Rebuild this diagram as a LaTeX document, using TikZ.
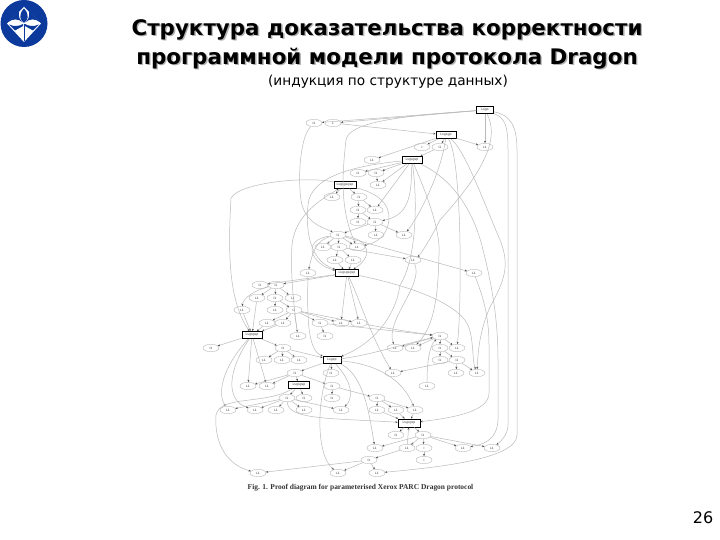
\documentclass[tikz,border=0pt]{standalone}
\usepackage{fontspec}
\setmainfont{DejaVu Sans}
\newfontfamily\capfont{Liberation Serif}
\usetikzlibrary{arrows.meta,shapes.geometric}
\definecolor{logoblue}{HTML}{0B3A9C}
\tikzset{
  el/.style={ellipse,draw=black!28,line width=.4pt,fill=white,minimum width=16,minimum height=7.5,inner sep=0pt,font=\fontsize{3}{3}\selectfont,text=black!80},
  bx/.style={rectangle,draw=black,line width=.9pt,fill=white,minimum height=7,inner sep=0pt,font=\fontsize{3.2}{3}\selectfont,text=black!75},
  e/.style={draw=black!27,line width=.5pt,-{Stealth[length=2.2pt,width=2pt,color=black!70]}},
  ttl/.style={font=\fontsize{21.4}{29}\selectfont\bfseries,align=center,inner sep=0pt},
}
\begin{document}
\begin{tikzpicture}[x=1pt,y=-1pt]
\useasboundingbox (0,0) rectangle (720,540);
\fill[white] (0,0) rectangle (720,540);
% logo
\fill[logoblue] (24,23.5) circle (23.5);
\fill[white] (24,7) -- (41,23.5) -- (24,42) -- (7,23.5) -- cycle;
\fill[logoblue] (24,8.5) .. controls (18,15) and (20,20) .. (24,23) .. controls (28,20) and (30,15) .. (24,8.5);
\fill[logoblue] (8.5,22) -- (19,11.5) .. controls (18,17) and (20,20) .. (23,22.5) .. controls (18,18) and (12,19) .. cycle;
\fill[logoblue] (39.5,22) -- (29,11.5) .. controls (30,17) and (28,20) .. (25,22.5) .. controls (30,18) and (36,19) .. cycle;
\fill[logoblue] (9,24.5) .. controls (14,27) and (20,26) .. (23,24) -- (23,26) -- (15,30.5) -- cycle;
\fill[logoblue] (39,24.5) .. controls (34,27) and (28,26) .. (25,24) -- (25,26) -- (33,30.5) -- cycle;
\fill[logoblue] (23.5,24) rectangle (24.7,41);
% titles
\node[ttl,text=black!30] (tshadow) at (388.4,45.4) {Структура доказательства корректности\\программной модели протокола Dragon};
\node[ttl,text=black] (title) at (387,44) {Структура доказательства корректности\\программной модели протокола Dragon};
\node[font=\fontsize{13.7}{16}\selectfont,inner sep=0pt] (sub) at (388,81.5) {(индукция по структуре данных)};
\node[font=\fontsize{16}{18}\selectfont,inner sep=0pt] (pg) at (703,518) {26};
\node[font=\capfont\fontsize{7.45}{8}\selectfont\bfseries,text=black!80,inner sep=0pt] (cap) at (360.5,488) {Fig. 1. Proof diagram for parameterised Xerox PARC Dragon protocol};
% boxes
\node[bx,minimum width=17] (t) at (485,110) {Lsgp};
\node[bx,minimum width=20] (b2) at (446,135) {Lsgsgp};
\node[bx,minimum width=20] (b3) at (412,160) {Lsgsgsp};
\node[bx,minimum width=22,line width=.6pt] (b4) at (345,185) {Lsgsgsgsp};
\node[bx,minimum width=23] (b5) at (347,273) {Lsgsgsgsp};
\node[bx,minimum width=20] (b6) at (252,335) {Lsgsgsp};
\node[bx,minimum width=18] (b7) at (332,360) {Lsgsp};
\node[bx,minimum width=21] (b8) at (299,385) {Lsgsgsp};
\node[bx,minimum width=22,minimum height=8] (b9) at (409,423) {Lsgsgsp};
% ellipses
\node[el] (a1) at (314,123) {I1};
\node[el] (a2) at (333,123) {L};
\node[el] (c1) at (422,147) {I};
\node[el] (c2) at (440,147) {I1};
\node[el] (c3) at (485,147) {L1};
\node[el] (d1) at (372,160) {L1};
\node[el] (d2) at (358,173) {I1};
\node[el] (d3) at (376,173) {I1};
\node[el] (d4) at (378,185) {L1};
\node[el] (f1) at (332,197) {L1};
\node[el] (f2) at (359,197) {I1};
\node[el] (f3) at (358,210) {I1};
\node[el] (f4) at (375,210) {L1};
\node[el] (f5) at (358,222) {I1};
\node[el] (f6) at (375,222) {I1};
\node[el] (f7) at (376,235) {L1};
\node[el] (f8) at (404,235) {L1};
\node[el] (g0) at (338,235) {I1};
\node[el] (g1) at (323,247) {L1};
\node[el] (g2) at (339,247) {I1};
\node[el] (g3) at (357,247) {L1};
\node[el] (g4) at (335,260) {L1};
\node[el] (g5) at (353,260) {L1};
\node[el] (g6) at (413,260) {L1};
\node[el] (g7) at (308,273) {L1};
\node[el] (g8) at (474,273) {L1};
\node[el] (h1) at (260,285) {I1};
\node[el] (h2) at (276,285) {I1};
\node[el] (h3) at (257,298) {L1};
\node[el] (h4) at (275,298) {I1};
\node[el] (h5) at (293,298) {L1};
\node[el] (h6) at (242,310) {L1};
\node[el] (h7) at (275,310) {L1};
\node[el] (h8) at (294,310) {I1};
\node[el] (i1) at (267,323) {L1};
\node[el] (i2) at (283,323) {L1};
\node[el] (i3) at (320,323) {I1};
\node[el] (i4) at (341,323) {L1};
\node[el] (i5) at (359,323) {L1};
\node[el] (j1) at (298,336) {L1};
\node[el] (j2) at (325,336) {I1};
\node[el] (j3) at (440,336) {I1};
\node[el] (k1) at (211,348) {I1};
\node[el] (k2) at (283,348) {I1};
\node[el] (k3) at (395,348) {L1};
\node[el] (k4) at (413,348) {L1};
\node[el] (k5) at (440,348) {I1};
\node[el] (k6) at (457,348) {L1};
\node[el] (l1) at (264,360) {L1};
\node[el] (l2) at (282,360) {L1};
\node[el] (l3) at (299,360) {L1};
\node[el] (l4) at (440,360) {I1};
\node[el] (l5) at (457,360) {I1};
\node[el] (m1) at (393,373) {L1};
\node[el] (m2) at (331,373) {I1};
\node[el] (m3) at (295,373) {I1};
\node[el] (m4) at (456,373) {L1};
\node[el] (m5) at (477,373) {L1};
\node[el] (n1) at (248,386) {L1};
\node[el] (n2) at (267,386) {L1};
\node[el] (n3) at (332,386) {I1};
\node[el] (n4) at (427,386) {L1};
\node[el] (o1) at (287,398) {I1};
\node[el] (o2) at (304,398) {I1};
\node[el] (o3) at (332,398) {I1};
\node[el] (o4) at (377,398) {I1};
\node[el] (p1) at (228,410) {L1};
\node[el] (p2) at (255,410) {L1};
\node[el] (p3) at (276,410) {L1};
\node[el] (p4) at (304,410) {L1};
\node[el] (p5) at (341,410) {L1};
\node[el] (p6) at (377,410) {L1};
\node[el] (p7) at (396,410) {L1};
\node[el] (p8) at (415,410) {L1};
\node[el] (q1) at (396,435) {I1};
\node[el] (q2) at (423,435) {I1};
\node[el] (r1) at (375,448) {L1};
\node[el] (r2) at (407,448) {L1};
\node[el] (r3) at (424,448) {I};
\node[el] (r4) at (463,448) {L1};
\node[el] (r5) at (492,448) {L1};
\node[el] (s1) at (424,460) {I};
\node[el] (s2) at (369,460) {I1};
\node[el] (u1) at (258,473) {L1};
\node[el] (u2) at (338,473) {L1};
\node[el] (u3) at (377,473) {L1};
% straight edges
\foreach \x/\y in {t/a1,t/a2,t/c3,a2/b2,b2/c1,b2/c2,b2/c3,b2/d1,c2/b3,b3/d2,b3/d3,d3/d4,b3/d4,b3/f4,
  b4/f1,b4/f2,f2/f3,f2/f4,f3/f5,f3/f6,f6/f7,f6/f8,f6/g0,g0/g1,g0/g2,g0/g3,g2/g4,g2/g5,g2/g6,g0/g8,g4/b5,g5/b5,
  b5/h2,b5/h1,b5/i4,b5/i5,h2/h3,h2/h4,h2/h5,h4/h7,h4/h8,h8/i1,h8/i2,h8/i3,h8/i4,h8/i5,h8/j1,i3/j2,i3/j3,
  h3/b6,h6/b6,i2/b6,i1/b6,b6/k1,b6/k2,b6/n1,b6/n2,k2/l1,k2/l2,k2/l3,k2/b7,b7/m2,b7/m3,m3/n2,m3/n1,m3/b8,m3/n3,
  n3/o3,n3/o4,o4/p6,o4/p7,o4/p8,p7/b9,p8/b9,p6/b9,b8/o1,b8/o2,o1/p1,o1/p2,o1/p3,o1/p4,o1/p5,
  b9/q1,b9/q2,q2/r1,q2/r2,q2/r3,q2/r4,q2/r5,r2/b9,r3/s1,r2/s2,s2/u1,s2/u3,s2/u2,
  j3/k3,j3/k4,j3/k5,j3/k6,k5/l4,k5/l5,l5/m4,l5/m5,l5/m1}
  \draw[e] (\x) -- (\y);
% curved edges
\draw[e] (t) .. controls (400,116) and (349,122) .. (346,140) .. controls (342,175) and (340,210) .. (g3);
\draw[e] (a1) .. controls (298,140) and (298,190) .. (302,205) .. controls (308,225) and (325,228) .. (g0);
\draw[e] (b3) .. controls (360,165) and (310,175) .. (308,205) .. controls (305,235) and (312,262) .. (b5);
\draw[e] (b3) .. controls (411,190) and (412,215) .. (f6);
\draw[e] (b3) .. controls (418,205) and (416,260) .. (400,285) .. controls (395,320) and (370,345) .. (b7);
\draw[e] (b3) .. controls (425,190) and (441,230) .. (439,255) .. controls (438,290) and (436,325) .. (k4);
\draw[e] (b3) .. controls (455,180) and (475,215) .. (483,250) .. controls (492,285) and (498,320) .. (498,360) -- (498,420) .. controls (497,442) and (480,445) .. (r4);
\draw[e] (b4) .. controls (310,176) and (240,182) .. (231,198) .. controls (228,250) and (228,300) .. (b6);
\draw[e] (b4) .. controls (385,195) and (392,210) .. (388,225) .. controls (385,238) and (375,243) .. (g3);
\draw[e] (j1) .. controls (294,310) and (290,270) .. (292,245) .. controls (295,215) and (320,200) .. (b4);
\draw[e] (g0) .. controls (315,240) and (312,255) .. (g7);
\draw[e] (g0) .. controls (300,240) and (312,265) .. (b5);
\draw[e] (g0) .. controls (372,240) and (372,258) .. (b5);
\draw[e] (g7) .. controls (307,320) and (308,350) .. (b7);
\draw[e] (b2) .. controls (442,170) and (420,215) .. (f8);
\draw[e] (b2) .. controls (462,160) and (462,300) .. (k6);
\draw[e] (b2) .. controls (465,150) and (485,205) .. (500,240) .. controls (510,265) and (505,280) .. (490,307) .. controls (480,330) and (478,350) .. (m5);
\draw[e] (t) .. controls (498,135) and (490,165) .. (440,220) .. controls (430,240) and (420,255) .. (g6);
\draw[e] (t) .. controls (505,118) and (508,125) .. (508,150) -- (508,425) .. controls (508,435) and (500,442) .. (r5);
\draw[e] (t) .. controls (510,115) and (517,125) .. (517,150) -- (517,435) .. controls (517,460) and (430,468) .. (u3);
\draw[e] (b5) .. controls (400,284) and (455,300) .. (468,325) .. controls (474,340) and (472,360) .. (m5);
\draw[e] (b5) .. controls (360,300) and (370,335) .. (m1);
\draw[e] (g8) .. controls (480,290) and (489,310) .. (489,345) -- (489,393) .. controls (489,410) and (460,417) .. (b9);
\draw[e] (g6) .. controls (424,285) and (385,320) .. (k3);
\draw[e] (i5) .. controls (385,328) and (410,332) .. (j3);
\draw[e] (b6) .. controls (220,370) and (218,395) .. (p1);
\draw[e] (b6) .. controls (228,370) and (225,400) .. (p2);
\draw[e] (b7) .. controls (316,400) and (316,455) .. (u2);
\draw[e] (b7) .. controls (355,385) and (352,400) .. (p5);
\draw[e] (b7) .. controls (365,375) and (370,420) .. (r1);
\draw[e] (b7) .. controls (385,365) and (405,385) .. (p8);
\draw[e] (b7) .. controls (370,355) and (400,345) .. (j3);
\draw[e] (b8) .. controls (265,405) and (220,395) .. (216,415) .. controls (214,445) and (228,465) .. (u1);
\draw[e] (o1) .. controls (288,420) and (330,418) .. (b9);
\draw[e] (n4) .. controls (427,360) and (430,345) .. (j3);
\draw[e] (h2) .. controls (255,290) and (243,298) .. (h6);
\end{tikzpicture}
\end{document}
